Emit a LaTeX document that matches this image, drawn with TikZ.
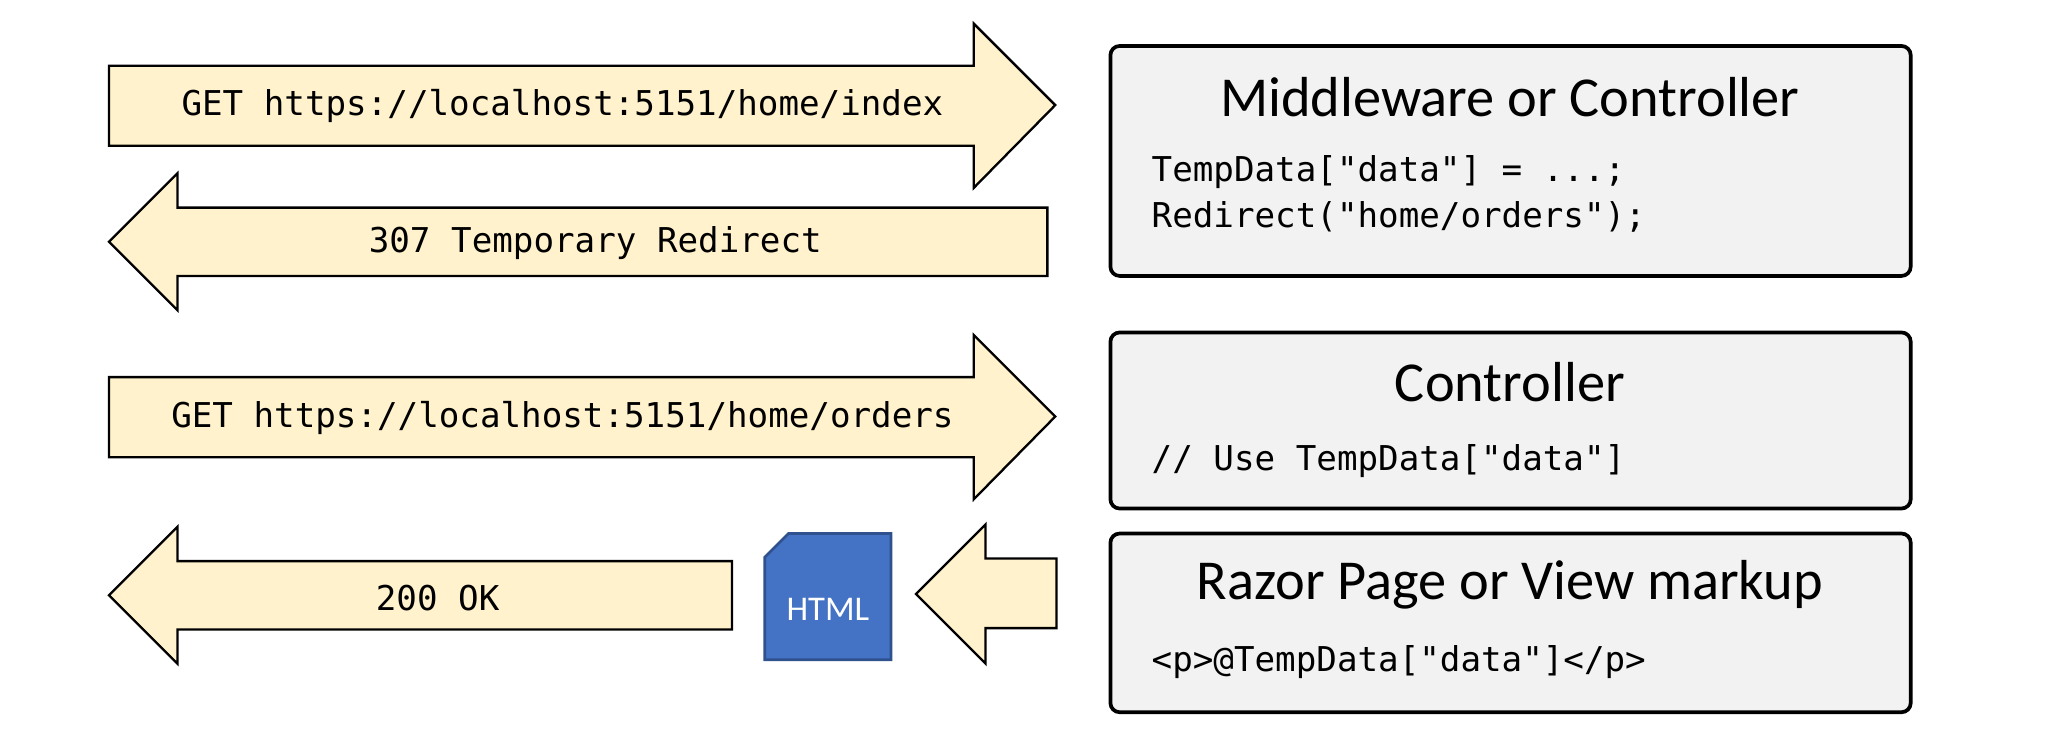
\documentclass[tikz,border=0pt]{standalone}
\usepackage{fontspec}
\setmainfont{Carlito}
\newfontfamily\codefont{DejaVu Sans Mono}
\definecolor{arrowfill}{HTML}{FFF2CC}
\definecolor{boxfill}{HTML}{F2F2F2}
\definecolor{htmlblue}{HTML}{4472C4}
\definecolor{htmledge}{HTML}{2F528F}
\tikzset{
  flow/.style={draw=black, fill=arrowfill, line width=0.5pt},
  stage/.style={draw=black, fill=boxfill, line width=0.8pt, rounded corners=2pt},
  msg/.style={font=\codefont\fontsize{7.4}{9}\selectfont},
  title/.style={font=\fontsize{12.2}{14}\selectfont},
  code/.style={font=\codefont\fontsize{7.4}{9}\selectfont, anchor=west}
}
\begin{document}
\begin{tikzpicture}[x=0.01cm, y=-0.01cm]
  \useasboundingbox (0,0) rectangle (1560,568);

  % Requests and responses
  \draw[flow] (83,50) -- (741,50) -- (741,18) -- (803,80) -- (741,143) -- (741,111) -- (83,111) -- cycle;
  \node[msg] (req1) at (428,81) {GET https://localhost:5151/home/index};

  \draw[flow] (83,184) -- (135,132) -- (135,158) -- (797,158) -- (797,210) -- (135,210) -- (135,236) -- cycle;
  \node[msg] (resp1) at (453,185) {307 Temporary Redirect};

  \draw[flow] (83,287) -- (741,287) -- (741,255) -- (803,317) -- (741,380) -- (741,348) -- (83,348) -- cycle;
  \node[msg] (req2) at (428,318) {GET https://localhost:5151/home/orders};

  \draw[flow] (83,453) -- (135,401) -- (135,427) -- (557,427) -- (557,479) -- (135,479) -- (135,505) -- cycle;
  \node[msg] (resp2) at (333,455) {200 OK};

  % Page rendered back
  \draw[flow] (697,452) -- (750,399) -- (750,425) -- (804,425) -- (804,478) -- (750,478) -- (750,505) -- cycle;

  % HTML document
  \draw[fill=htmlblue, draw=htmledge, line width=0.6pt] (600,406) -- (678,406) -- (678,502) -- (582,502) -- (582,424) -- cycle;
  \node[text=white, font=\fontsize{7.5}{9}\selectfont] (html) at (630,464) {HTML};

  % Stages
  \draw[stage] (845,35) rectangle (1454,210);
  \node[title] (mw) at (1149,74) {Middleware or Controller};
  \node[code] (mw1) at (864,131) {TempData["data"] = ...;};
  \node[code] (mw2) at (864,165) {Redirect("home/orders");};

  \draw[stage] (845,253) rectangle (1454,387);
  \node[title] (ctl) at (1149,291) {Controller};
  \node[code] (ctl1) at (864,351) {// Use TempData["data"]};

  \draw[stage] (845,406) rectangle (1454,542);
  \node[title] (view) at (1149,445) {Razor Page or View markup};
  \node[code] (view1) at (864,504) {<p>@TempData["data"]</p>};
\end{tikzpicture}
\end{document}
